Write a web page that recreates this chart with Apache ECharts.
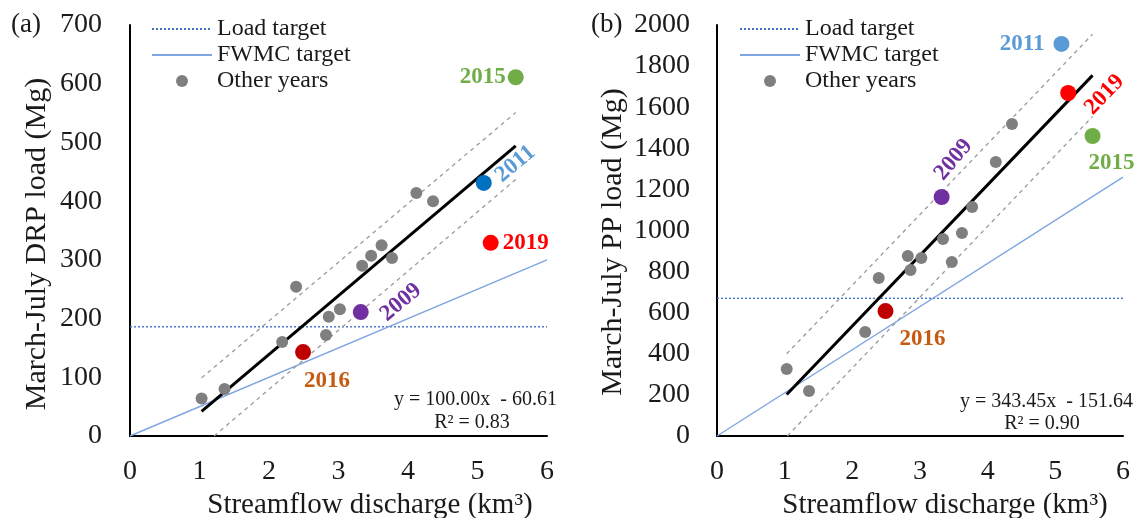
<!DOCTYPE html>
<html>
<head>
<meta charset="utf-8">
<script src="https://cdn.jsdelivr.net/npm/echarts@6/dist/echarts.min.js"></script>
<style>
html,body{margin:0;padding:0;background:#fff;}
#chart{width:1141px;height:518px;}
</style>
</head>
<body>
<div id="chart"></div>
<script>
// ---- data ----
const xTicks = [0, 1, 2, 3, 4, 5, 6];
const drpTicks = [0, 100, 200, 300, 400, 500, 600, 700];
const ppTicks = [0, 200, 400, 600, 800, 1000, 1200, 1400, 1600, 1800, 2000];

// other years: discharge (km3), DRP load (Mg), PP load (Mg)
const otherDischarge = [1.03, 1.36, 2.19, 2.39, 2.82, 2.86, 3.02, 3.34, 3.47, 3.62, 3.77, 4.12, 4.36];
const otherDRP = [64, 80, 160, 254, 172, 203, 216, 290, 307, 325, 303, 414, 400];
const otherPP = [326, 219, 506, 769, 876, 808, 866, 959, 847, 988, 1114, 1333, 1518];

// highlighted years
const hlYears = ['2016', '2009', '2019', '2011', '2015'];
const hlDischarge = [2.49, 3.32, 5.19, 5.09, 5.55];
const hlDRP = [143, 211, 329, 431, 611];
const hlPP = [608, 1163, 1669, 1908, 1460];

// regression (as printed on the chart)
const fitSlope = [100.00, 343.45];
const fitIntercept = [-60.61, -151.64];
const fitR2 = [0.83, 0.90];

// line end points
const drpFit = [[1.03, 42], [5.55, 494]];
const drpUpper = [[1.03, 99], [5.55, 551]];
const drpLower = [[1.21, 0], [5.55, 437]];
const ppFit = [[1.03, 202], [5.55, 1755]];
const ppUpper = [[1.03, 400], [5.55, 1955]];
const ppLower = [[1.04, 0], [5.55, 1555]];

const drpLoadTarget = [[0, 186], [6, 186]];
const drpFwmcTarget = [[0, 0], [6, 300]];
const ppLoadTarget = [[0, 670], [6, 670]];
const ppFwmcTarget = [[0, 0], [6, 1260]];

// ---- styling ----
const FONT = 'Liberation Serif';
const TXT = '#1a1a1a';
const styleA = {
  '2016': {c: '#C00000', lc: '#C55A11', pos: 'bottom', dist: 10, off: [24, 0], rot: 0},
  '2009': {c: '#7030A0', lc: '#7030A0', pos: 'right', dist: 5, off: [4, 10], rot: 40},
  '2019': {c: '#FF0000', lc: '#FF0000', pos: 'right', dist: 4, off: [0, 0], rot: 0},
  '2011': {c: '#0070C0', lc: '#5B9BD5', pos: 'right', dist: 4, off: [5, -2], rot: 40},
  '2015': {c: '#70AD47', lc: '#70AD47', pos: 'left', dist: 2, off: [0, 0], rot: 0}
};
const styleB = {
  '2016': {c: '#C00000', lc: '#C55A11', pos: 'bottom', dist: 9, off: [37, 0], rot: 0},
  '2009': {c: '#7030A0', lc: '#7030A0', pos: 'right', dist: 0, off: [8, -21], rot: 50},
  '2019': {c: '#FF0000', lc: '#FF0000', pos: 'right', dist: 5, off: [-8, 18], rot: 46},
  '2011': {c: '#5B9BD5', lc: '#5B9BD5', pos: 'left', dist: 9, off: [0, 0], rot: 0},
  '2015': {c: '#70AD47', lc: '#70AD47', pos: 'bottom', dist: 8, off: [19, 0], rot: 0}
};

function hlData(yVals, st) {
  return hlYears.map((yr, i) => {
    const s = st[yr];
    return {
      value: [hlDischarge[i], yVals[i]],
      name: yr,
      itemStyle: {color: s.c, opacity: 1},
      label: {
        show: true, formatter: yr, position: s.pos, distance: s.dist,
        offset: s.off, rotate: s.rot, color: s.lc, opacity: 1,
        fontFamily: FONT, fontWeight: 'bold', fontSize: 23
      }
    };
  });
}

function pairs(xs, ys) { return xs.map((x, i) => [x, ys[i]]); }

function panelSeries(idx, loadT, fwmcT, fit, up, lo, others, hl) {
  const base = {xAxisIndex: idx, yAxisIndex: idx, animation: false, silent: true};
  return [
    Object.assign({}, base, {name: 'Load target', type: 'line', data: loadT, symbol: 'none', z: 2,
      itemStyle: {color: '#4472C4'},
      lineStyle: {color: '#4472C4', width: 1.4, type: [2, 2]}}),
    Object.assign({}, base, {name: 'FWMC target', type: 'line', data: fwmcT, symbol: 'none', z: 2,
      itemStyle: {color: '#7FA6E0'},
      lineStyle: {color: '#7FA6E0', width: 1.4}}),
    Object.assign({}, base, {name: 'upper', type: 'line', data: up, symbol: 'none', z: 2,
      lineStyle: {color: '#9a9a9a', width: 1.3, type: [4, 4]}}),
    Object.assign({}, base, {name: 'lower', type: 'line', data: lo, symbol: 'none', z: 2,
      lineStyle: {color: '#9a9a9a', width: 1.3, type: [4, 4]}}),
    Object.assign({}, base, {name: 'fit', type: 'line', data: fit, symbol: 'none', z: 3,
      lineStyle: {color: '#000', width: 3}}),
    Object.assign({}, base, {name: 'Other years', type: 'scatter', data: others, symbolSize: 12, z: 4,
      itemStyle: {color: '#7f7f7f', opacity: 1}}),
    Object.assign({}, base, {name: 'highlight', type: 'scatter', data: hl, symbolSize: 16, z: 5,
      itemStyle: {opacity: 1}})
  ];
}

function eqText(i) {
  const b = fitIntercept[i];
  return 'y = ' + fitSlope[i].toFixed(2) + 'x  ' + (b < 0 ? '- ' : '+ ') + Math.abs(b).toFixed(2);
}

const axisCommon = {
  axisLine: {show: true, lineStyle: {color: '#000', width: 2}},
  axisTick: {show: false},
  splitLine: {show: false}
};

function xAx(idx, padLeft) {
  return Object.assign({}, axisCommon, {
    type: 'value', gridIndex: idx, min: xTicks[0], max: xTicks[xTicks.length - 1], interval: 1,
    name: 'Streamflow discharge (km³)', nameLocation: 'middle', nameGap: 53,
    nameTextStyle: {fontFamily: FONT, fontSize: 29, color: TXT, padding: [0, 0, 0, padLeft]},
    axisLabel: {fontFamily: FONT, fontSize: 28, color: TXT, margin: 22}
  });
}
function yAx(idx, ticks, margin) {
  return Object.assign({}, axisCommon, {
    type: 'value', gridIndex: idx, min: 0, max: ticks[ticks.length - 1], interval: ticks[1] - ticks[0],
    axisLabel: {fontFamily: FONT, fontSize: 28, color: TXT, margin: margin,
      formatter: v => String(v)}
  });
}

const legendItems = [
  {name: 'Load target', itemStyle: {opacity: 0}},
  {name: 'FWMC target', itemStyle: {opacity: 0}},
  {name: 'Other years'}
];
const legendCommon = {
  orient: 'vertical', itemWidth: 60, itemHeight: 12, itemGap: 2,
  data: legendItems,
  textStyle: {fontFamily: FONT, fontSize: 24, color: TXT},
  selectedMode: false
};

const gridCommon = {top: 25, bottom: 518 - 436, containLabel: false, outerBoundsMode: 'none'};

const option = {
  backgroundColor: '#fff',
  animation: false,
  grid: [
    Object.assign({left: 130, right: 1141 - 547}, gridCommon),
    Object.assign({left: 717, right: 1141 - 1123}, gridCommon)
  ],
  xAxis: [xAx(0, 63), xAx(1, 50)],
  yAxis: [yAx(0, drpTicks, 28), yAx(1, ppTicks, 27)],
  legend: [
    Object.assign({}, legendCommon, {left: 146, top: 12}),
    Object.assign({}, legendCommon, {left: 734, top: 12})
  ],
  graphic: [
    {type: 'text', left: 11, top: 11, style: {text: '(a)', fontFamily: FONT, fontSize: 27, fill: TXT}},
    {type: 'text', left: 591, top: 11, style: {text: '(b)', fontFamily: FONT, fontSize: 27, fill: TXT}},
    {type: 'text', x: 37, y: 244, rotation: Math.PI / 2,
      style: {text: 'March-July DRP load (Mg)', fontFamily: FONT, fontSize: 30, fill: TXT, align: 'center', verticalAlign: 'middle'}},
    {type: 'text', x: 613, y: 242, rotation: Math.PI / 2,
      style: {text: 'March-July PP load (Mg)', fontFamily: FONT, fontSize: 30, fill: TXT, align: 'center', verticalAlign: 'middle'}},
    {type: 'text', x: 557, y: 400, style: {text: eqText(0), fontFamily: FONT, fontSize: 20, fill: TXT, align: 'right', verticalAlign: 'middle'}},
    {type: 'text', x: 472, y: 423, style: {text: 'R² = ' + fitR2[0].toFixed(2), fontFamily: FONT, fontSize: 20, fill: TXT, align: 'center', verticalAlign: 'middle'}},
    {type: 'text', x: 1133, y: 402, style: {text: eqText(1), fontFamily: FONT, fontSize: 20, fill: TXT, align: 'right', verticalAlign: 'middle'}},
    {type: 'text', x: 1042, y: 424, style: {text: 'R² = ' + fitR2[1].toFixed(2), fontFamily: FONT, fontSize: 20, fill: TXT, align: 'center', verticalAlign: 'middle'}}
  ],
  series: [].concat(
    panelSeries(0, drpLoadTarget, drpFwmcTarget, drpFit, drpUpper, drpLower,
      pairs(otherDischarge, otherDRP), hlData(hlDRP, styleA)),
    panelSeries(1, ppLoadTarget, ppFwmcTarget, ppFit, ppUpper, ppLower,
      pairs(otherDischarge, otherPP), hlData(hlPP, styleB))
  )
};

const chart = echarts.init(document.getElementById('chart'), null, {renderer: 'canvas'});
chart.setOption(option);
</script>
</body>
</html>
